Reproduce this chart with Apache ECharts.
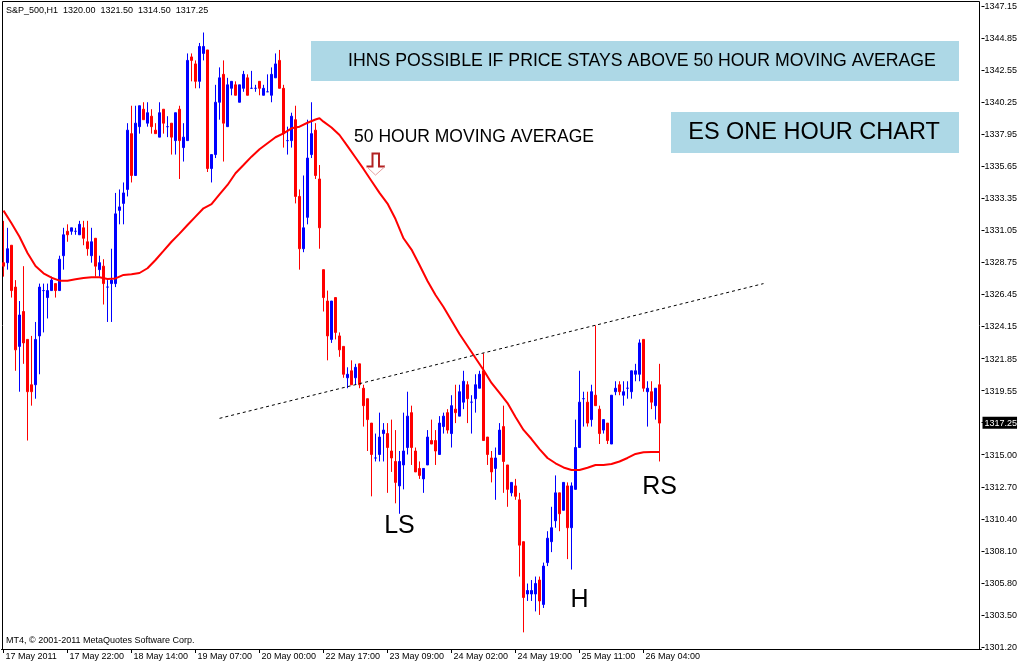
<!DOCTYPE html>
<html><head><meta charset="utf-8">
<script src="https://cdn.jsdelivr.net/npm/echarts@6/dist/echarts.min.js"></script>
<style>html,body{margin:0;padding:0;background:#fff;overflow:hidden}#c{width:1018px;height:666px}</style>
</head><body><div id="c"></div>
<script>
const symbolTitle = 'S&P_500,H1';
const lastOHLC = ['1320.00', '1321.50', '1314.50', '1317.25'];
const lastPrice = '1317.25';
const xTickLabels = ['17 May 2011','17 May 22:00','18 May 14:00','19 May 07:00','20 May 00:00','22 May 17:00','23 May 09:00','24 May 02:00','24 May 19:00','25 May 11:00','26 May 04:00'];
const barsPerLabel = 16;
const yTickLabels = ['1301.20','1303.50','1305.80','1308.10','1310.40','1312.70','1315.00','1317.25','1319.55','1321.85','1324.15','1326.45','1328.75','1331.05','1333.35','1335.65','1337.95','1340.25','1342.55','1344.85','1347.15'];

const opens = [1328.75,1328.75,1330.00,1327.00,1322.75,1325.25,1323.25,1320.00,1320.00,1323.50,
1326.75,1326.25,1326.75,1327.25,1326.75,1329.25,1331.00,1331.00,1331.00,1330.75,
1331.25,1330.25,1329.25,1330.50,1328.25,1328.50,1327.00,1327.25,1327.25,1332.50,
1333.00,1334.00,1338.00,1335.00,1338.50,1339.75,1338.75,1339.25,1338.25,1337.75,
1339.75,1338.50,1338.75,1337.50,1339.75,1337.00,1337.50,1343.50,1343.00,1341.75,
1343.75,1344.00,1335.50,1336.50,1340.25,1342.25,1338.50,1341.25,1341.50,1340.25,
1341.25,1342.00,1341.25,1341.25,1341.75,1340.75,1341.00,1340.75,1342.00,1343.25,
1341.25,1337.50,1337.50,1339.00,1333.50,1329.75,1332.00,1336.50,1338.25,1334.75,
1328.25,1326.00,1323.25,1326.25,1323.50,1322.75,1320.50,1321.00,1320.50,1321.50,
1319.75,1319.00,1317.25,1314.75,1315.00,1316.50,1316.50,1315.25,1314.50,1312.75,
1314.25,1315.50,1318.00,1315.25,1314.00,1313.25,1314.25,1316.00,1316.00,1315.00,
1317.00,1318.00,1316.50,1318.25,1317.75,1318.75,1320.00,1318.75,1319.00,1319.75,
1321.00,1316.25,1314.75,1314.00,1315.00,1317.00,1314.25,1312.25,1312.75,1311.75,
1308.75,1305.00,1305.00,1305.00,1306.00,1304.25,1307.25,1308.75,1310.25,1312.25,
1311.00,1312.75,1309.75,1312.50,1315.50,1319.00,1318.75,1317.50,1319.25,1318.25,
1316.75,1317.25,1315.75,1319.50,1320.00,1319.25,1319.75,1319.50,1320.75,1320.75,
1323.25,1319.50,1319.50,1318.50,1320.00];
const closes = [1328.50,1329.75,1326.75,1322.50,1325.00,1323.00,1319.50,1319.50,1323.25,1327.00,
1326.75,1326.75,1327.50,1326.75,1329.00,1330.75,1330.75,1331.25,1331.00,1331.50,
1330.50,1329.75,1330.25,1328.50,1328.75,1327.25,1327.00,1327.50,1332.25,1332.75,
1333.75,1338.25,1335.00,1338.75,1340.00,1339.00,1339.50,1338.50,1338.00,1339.50,
1338.75,1338.50,1337.75,1339.50,1337.50,1337.75,1343.25,1343.25,1341.75,1344.25,
1344.25,1335.50,1336.50,1340.25,1342.00,1338.75,1341.50,1341.75,1340.75,1341.50,
1342.25,1340.75,1341.25,1341.25,1341.25,1341.25,1341.00,1342.25,1343.00,1341.25,
1338.00,1337.50,1339.25,1333.50,1329.75,1331.25,1336.25,1338.00,1335.00,1331.25,
1326.25,1323.50,1326.00,1323.75,1322.50,1320.75,1320.75,1320.00,1321.25,1320.00,
1318.50,1317.50,1315.00,1314.75,1316.25,1316.75,1315.50,1314.75,1313.00,1314.50,
1315.25,1317.75,1315.50,1313.75,1313.50,1314.00,1316.25,1315.75,1315.25,1317.25,
1317.75,1316.75,1318.50,1318.00,1319.50,1320.25,1319.00,1318.75,1320.00,1320.75,
1316.00,1315.00,1313.75,1314.75,1316.75,1314.50,1312.50,1313.00,1312.00,1308.50,
1304.75,1305.25,1305.25,1305.75,1304.50,1307.00,1309.00,1309.75,1312.25,1310.75,
1313.00,1309.75,1312.75,1315.50,1318.75,1319.00,1317.25,1319.50,1318.50,1316.50,
1317.50,1316.00,1319.25,1319.75,1319.50,1319.50,1319.75,1321.00,1321.00,1323.00,
1319.75,1319.75,1318.75,1319.75,1317.25];
const lows = [1327.75,1328.25,1326.25,1321.00,1319.50,1321.50,1316.00,1318.50,1319.00,1320.75,
1323.75,1324.75,1326.75,1326.25,1326.75,1328.25,1330.25,1330.75,1330.75,1330.75,
1330.00,1329.25,1328.75,1327.75,1327.75,1325.75,1324.50,1324.50,1327.00,1331.50,
1331.50,1333.50,1334.50,1335.00,1338.00,1339.00,1338.50,1338.00,1338.00,1337.75,
1338.00,1337.75,1336.50,1336.50,1334.75,1336.00,1337.50,1341.75,1341.25,1341.25,
1343.25,1335.25,1334.50,1336.25,1339.00,1336.00,1338.50,1340.75,1340.75,1340.25,
1341.00,1340.75,1341.25,1341.00,1340.75,1340.75,1341.00,1340.25,1342.00,1341.25,
1337.00,1336.50,1337.00,1333.00,1328.25,1329.50,1331.50,1336.25,1334.75,1329.75,
1325.25,1321.75,1323.00,1323.25,1322.00,1320.50,1319.75,1320.00,1320.00,1319.75,
1317.00,1315.25,1312.00,1314.50,1314.50,1314.50,1312.25,1313.75,1311.50,1310.75,
1312.50,1315.00,1314.25,1313.75,1313.25,1312.25,1314.25,1315.75,1314.25,1315.00,
1316.50,1316.50,1315.50,1317.25,1317.75,1318.25,1317.25,1316.50,1318.00,1319.75,
1316.00,1314.25,1313.00,1311.75,1315.00,1312.25,1311.25,1312.00,1311.75,1306.25,
1302.25,1304.50,1304.50,1303.75,1303.50,1304.00,1307.00,1308.00,1309.75,1309.50,
1311.00,1307.50,1306.75,1312.50,1315.50,1317.00,1317.00,1317.00,1318.50,1315.75,
1316.50,1315.75,1315.75,1319.25,1319.25,1318.50,1319.00,1319.00,1320.25,1320.25,
1319.50,1317.00,1318.25,1317.50,1314.50];
const highs = [1331.75,1331.25,1330.00,1327.50,1326.00,1328.50,1323.25,1323.50,1324.50,1327.25,
1327.25,1327.25,1327.75,1327.25,1329.25,1331.25,1331.50,1331.25,1331.25,1331.75,
1331.75,1331.75,1331.25,1330.50,1329.25,1329.00,1327.50,1329.75,1333.75,1334.00,
1334.50,1338.75,1340.00,1340.00,1340.00,1340.25,1340.25,1339.75,1338.75,1340.25,
1339.75,1339.25,1338.75,1339.50,1340.00,1338.75,1343.75,1343.75,1343.25,1344.50,
1345.25,1344.00,1336.50,1341.50,1342.75,1343.25,1342.00,1341.75,1341.75,1341.50,
1342.50,1342.25,1342.50,1341.50,1341.75,1341.50,1342.25,1342.75,1343.75,1344.00,
1341.50,1338.50,1339.50,1340.00,1334.00,1335.00,1339.00,1340.25,1338.75,1335.75,
1328.25,1326.75,1326.00,1326.25,1323.75,1322.75,1321.25,1321.75,1321.50,1321.50,
1320.00,1319.00,1317.25,1316.50,1318.00,1317.25,1317.25,1317.50,1316.75,1315.25,
1318.00,1319.50,1318.50,1315.50,1314.50,1314.00,1316.75,1317.50,1316.75,1317.75,
1318.00,1318.25,1319.25,1320.00,1320.00,1321.00,1320.25,1319.25,1320.75,1321.00,
1322.25,1316.25,1315.25,1315.50,1317.25,1318.50,1314.25,1313.00,1313.25,1312.25,
1308.75,1305.75,1306.00,1306.25,1306.25,1307.25,1309.50,1311.25,1313.50,1312.25,
1313.00,1313.00,1313.00,1317.50,1321.00,1319.50,1319.50,1320.00,1324.25,1318.50,
1317.50,1317.25,1319.25,1320.25,1320.25,1320.25,1320.25,1321.00,1321.50,1323.25,
1323.25,1320.25,1320.25,1319.75,1321.50];

// 50 hour moving average at these bar indices
const maIndex = [0,2,4,6,8,10,12,14,16,18,20,22,24,26,28,30,32,34,36,38,40,42,44,46,48,50,52,54,56,58,60,62,64,66,68,70,72,74,76,78,79,80,82,84,86,88,90,92,94,96,98,100,102,104,106,108,110,112,114,116,118,120,122,124,126,128,130,132,134,136,138,140,142,144,146,148,150,152,154,156,158,160,162,164];
const maValues = [1332.48,1331.57,1330.61,1329.44,1328.51,1327.99,1327.67,1327.46,1327.46,1327.56,1327.65,1327.70,1327.70,1327.58,1327.62,1327.87,1327.92,1328.01,1328.35,1328.94,1329.59,1330.25,1330.83,1331.45,1332.05,1332.65,1332.94,1333.64,1334.32,1335.16,1335.75,1336.35,1336.88,1337.31,1337.74,1338.02,1338.38,1338.50,1338.78,1339.01,1339.10,1338.86,1338.44,1337.90,1337.11,1336.29,1335.47,1334.61,1333.75,1332.99,1331.88,1330.50,1329.69,1328.58,1327.44,1326.43,1325.57,1324.61,1323.64,1322.78,1321.92,1321.06,1320.13,1319.41,1318.69,1317.69,1316.76,1316.11,1315.39,1314.75,1314.37,1314.07,1313.89,1313.89,1314.05,1314.25,1314.25,1314.32,1314.50,1314.75,1315.04,1315.16,1315.18,1315.18];

// dotted neckline trend line
const trendIndex = [54, 190];
const trendValues = [1317.59, 1327.25];

// annotations (bar index, price)
const noteLS = {text: 'LS', at: [99, 1309.87]};
const noteH = {text: 'H', at: [144, 1304.57]};
const noteRS = {text: 'RS', at: [164, 1312.63]};
const arrowTip = [93, 1335.03];

const FONT = '"Liberation Sans", Arial, sans-serif';
const nCat = 245;
const cats = Array.from({length: nCat}, (_, i) => String(i));
const candleData = opens.map((o, i) => [o, closes[i], lows[i], highs[i]]);
const maData = maIndex.map((ix, k) => [ix, maValues[k]]);
const trendData = trendIndex.map((ix, k) => [ix, trendValues[k]]);
const showIdx = (idx) => idx % barsPerLabel === 0 && idx / barsPerLabel < xTickLabels.length;

const chart = echarts.init(document.getElementById('c'));
chart.setOption({
  animation: false,
  backgroundColor: '#ffffff',
  grid: {left: 1.5, right: 36.5, top: 6, bottom: 19, containLabel: false, outerBoundsMode: 'none'},
  xAxis: {
    type: 'category', data: cats, boundaryGap: true, offset: 2,
    axisLine: {show: true, lineStyle: {color: '#000', width: 1}},
    axisTick: {show: true, alignWithLabel: true, length: 4, interval: showIdx, lineStyle: {color: '#000'}},
    axisLabel: {interval: showIdx, formatter: (v, idx) => xTickLabels[idx / barsPerLabel] || '',
      align: 'left', margin: 3, padding: [0, 0, 0, 2], fontSize: 9, color: '#000', fontFamily: FONT},
    splitLine: {show: false}
  },
  yAxis: [
    {type: 'value', min: 1301.2, max: 1347.15, position: 'right', show: false, splitLine: {show: false}},
    {type: 'category', data: yTickLabels, boundaryGap: false, position: 'right',
      axisLine: {show: false},
      axisTick: {show: true, interval: 0, length: 3, lineStyle: {color: '#000'}},
      axisLabel: {interval: 0, margin: 1, fontSize: 9, color: '#000', fontFamily: FONT,
        formatter: (v) => v === lastPrice ? '{hl|' + v + '}' : '{n|' + v + '}',
        rich: {
          n: {color: '#000', fontSize: 9, fontFamily: FONT, padding: [2, 0, 1, 2]},
          hl: {backgroundColor: '#000', color: '#fff', fontSize: 9, fontFamily: FONT, padding: [2, 0, 1, 2]}
        }},
      splitLine: {show: false}}
  ],
  series: [
    {type: 'candlestick', yAxisIndex: 0, data: candleData, barWidth: 2, z: 3,
      itemStyle: {color: '#0000ff', color0: '#ff0000', borderColor: '#0000ff', borderColor0: '#ff0000', borderColorDoji: '#0000ff', borderWidth: 1}},
    {type: 'line', yAxisIndex: 0, data: maData, symbol: 'none', z: 4,
      lineStyle: {color: '#ff0000', width: 2}, itemStyle: {color: '#ff0000'}},
    {type: 'line', yAxisIndex: 0, data: trendData, symbol: 'none', z: 5,
      lineStyle: {color: '#000', width: 1, type: [3, 3]}}
  ]
});

function px(pt) { return chart.convertToPixel({xAxisIndex: 0, yAxisIndex: 0}, pt); }
const pLS = px(noteLS.at), pH = px(noteH.at), pRS = px(noteRS.at), pA = px(arrowTip);
const bigText = (p, t) => ({type: 'text', x: p[0], y: p[1], z: 20,
  style: {text: t, fontSize: 25, fontFamily: FONT, fill: '#000', align: 'center', verticalAlign: 'middle'}});
const ax = pA[0], ay = pA[1];
chart.setOption({
  graphic: [
    {type: 'rect', z: 1, shape: {x: 2.5, y: 1.5, width: 977, height: 648}, style: {fill: 'none', stroke: '#000', lineWidth: 1}},
    {type: 'text', x: 6, y: 10.5, z: 20, style: {text: symbolTitle + '  ' + lastOHLC.join('  '), fontSize: 9, fontFamily: FONT, fill: '#000', verticalAlign: 'middle'}},
    {type: 'text', x: 6, y: 641, z: 20, style: {text: 'MT4, \u00a9 2001-2011 MetaQuotes Software Corp.', fontSize: 9, fontFamily: FONT, fill: '#000', verticalAlign: 'middle'}},
    {type: 'rect', z: 10, shape: {x: 311, y: 41, width: 648, height: 40}, style: {fill: '#add8e6'}},
    {type: 'text', x: 642, y: 61, z: 11, style: {text: 'IHNS POSSIBLE IF PRICE STAYS ABOVE 50 HOUR MOVING AVERAGE', fontSize: 17.7, fontFamily: FONT, fill: '#000', align: 'center', verticalAlign: 'middle'}},
    {type: 'rect', z: 10, shape: {x: 671, y: 112, width: 288, height: 41}, style: {fill: '#add8e6'}},
    {type: 'text', x: 814, y: 133, z: 11, style: {text: 'ES ONE HOUR CHART', fontSize: 23.5, fontFamily: FONT, fill: '#000', align: 'center', verticalAlign: 'middle'}},
    {type: 'text', x: 474, y: 137, z: 11, style: {text: '50 HOUR MOVING AVERAGE', fontSize: 17.5, fontFamily: FONT, fill: '#000', align: 'center', verticalAlign: 'middle'}},
    {type: 'polyline', z: 12, shape: {points: [[ax - 9, ay - 8.5], [ax - 3, ay - 8.5], [ax - 3, ay - 21.5], [ax + 3.5, ay - 21.5], [ax + 3.5, ay - 8.5], [ax + 9.5, ay - 8.5]]}, style: {stroke: '#b22222', lineWidth: 2, fill: 'none'}},
    {type: 'polyline', z: 12, shape: {points: [[ax - 9, ay - 8.5], [ax, ay], [ax + 9.5, ay - 8.5]]}, style: {stroke: '#e8a0a0', lineWidth: 1, fill: 'none'}},
    bigText(pLS, noteLS.text), bigText(pH, noteH.text), bigText(pRS, noteRS.text)
  ]
});
</script></body></html>
